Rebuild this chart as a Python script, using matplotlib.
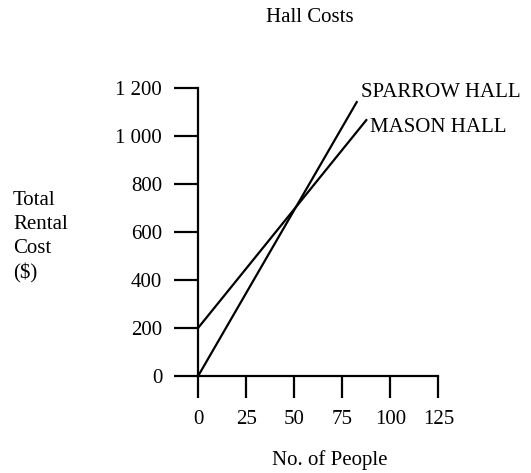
import matplotlib
matplotlib.use("Agg")
import matplotlib.pyplot as plt

# data
people_ticks = [0, 25, 50, 75, 100, 125]
cost_ticks = [0, 200, 400, 600, 800, 1000, 1200]
cost_tick_labels = ["0", "200", "400", "600", "800", "1 000", "1 200"]

sparrow_x = [0, 82.5]
sparrow_y = [0, 1140]
mason_x = [0, 87.5]
mason_y = [200, 1065]

plt.rcParams["font.family"] = ["Liberation Serif", "DejaVu Serif"]
plt.rcParams["font.size"] = 15

fig = plt.figure(figsize=(5.31, 4.73), dpi=100)
ax = fig.add_axes([198.3 / 531, 1 - 375.7 / 473, 240 / 531, 288 / 473])

ax.plot(sparrow_x, sparrow_y, color="black", lw=1.6, clip_on=False)
ax.plot(mason_x, mason_y, color="black", lw=1.6, clip_on=False)

ax.text(84.7, 1180, "SPARROW HALL", ha="left", va="center", clip_on=False)
ax.text(89.4, 1034, "MASON HALL", ha="left", va="center", clip_on=False)

ax.set_xlim(0, 125)
ax.set_ylim(0, 1200)
ax.set_xticks(people_ticks)
ax.set_yticks(cost_ticks)
ax.set_yticklabels(cost_tick_labels)

for s in ["top", "right"]:
    ax.spines[s].set_visible(False)
for s in ["left", "bottom"]:
    ax.spines[s].set_linewidth(1.6)
ax.tick_params(axis="x", direction="out", length=16, width=1.6, pad=8.5)
ax.tick_params(axis="y", direction="out", length=17.5, width=1.6, pad=8.5)

fig.text(310 / 531, 1 - 18 / 473, "Hall Costs", ha="center", va="center")
fig.text(330 / 531, 1 - 460 / 473, "No. of People", ha="center", va="center")
fig.text(13 / 531, 1 - 237 / 473, "Total\nRental\nCost\n($)", ha="left", va="center",
         linespacing=1.36)

fig.savefig("out.png", dpi=100)
